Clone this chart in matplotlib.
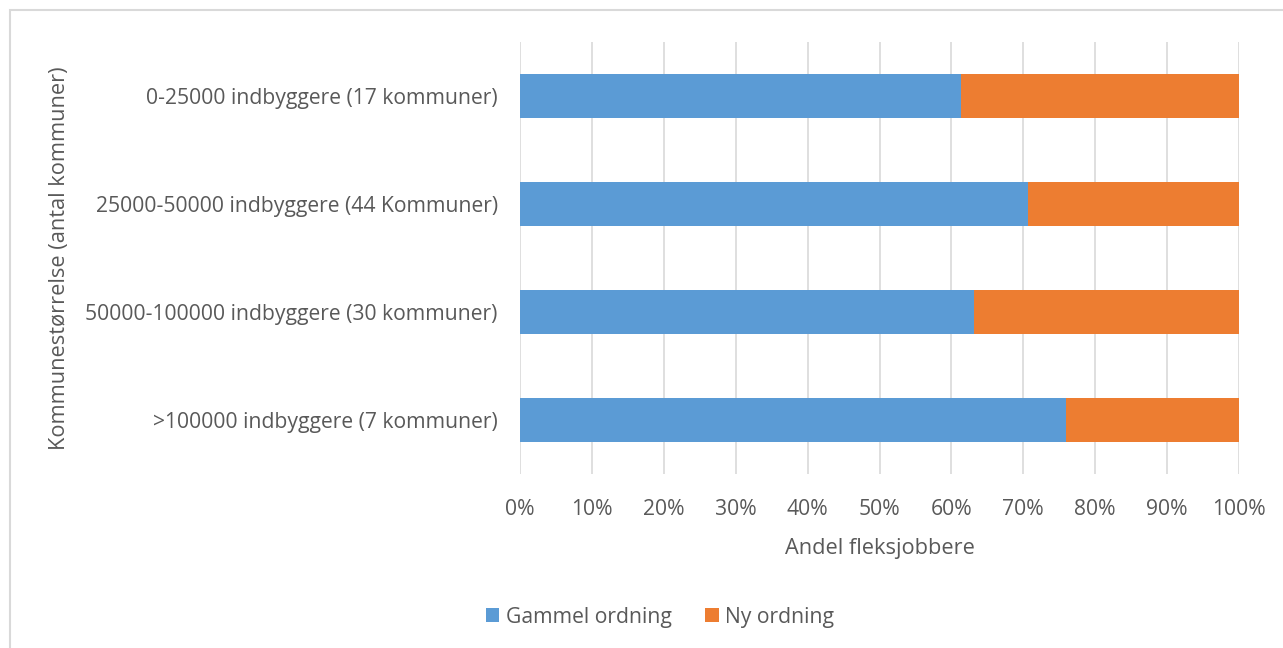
import matplotlib
matplotlib.use("Agg")
import matplotlib.pyplot as plt
from matplotlib.patches import Rectangle
from matplotlib.ticker import PercentFormatter

categories = ["0-25000 indbyggere (17 kommuner)",
              "25000-50000 indbyggere (44 Kommuner)",
              "50000-100000 indbyggere (30 kommuner)",
              ">100000 indbyggere (7 kommuner)"]
gammel = [61.3, 70.7, 63.2, 76.0]
ny = [100 - g for g in gammel]

plt.rcParams['font.family'] = ['Open Sans', 'DejaVu Sans']
txt = '#595959'
fs = 15.2

fig = plt.figure(figsize=(12.83, 6.48), dpi=100)
W, H = 1283, 648
fig.patches.append(Rectangle((10 / W, -5 / H), 1280 / W, 643 / H, transform=fig.transFigure,
                             fill=False, edgecolor='#D9D9D9', linewidth=1.5))
ax = fig.add_axes([520 / W, 1 - 474 / H, 719 / W, 432 / H])

y = list(range(len(categories)))
ax.barh(y, gammel, height=0.4, color='#5B9BD5', label='Gammel ordning', zorder=3)
ax.barh(y, ny, left=gammel, height=0.4, color='#ED7D31', label='Ny ordning', zorder=3)
ax.set_ylim(3.5, -0.5)
ax.set_xlim(0, 100)
ax.set_xticks(range(0, 101, 10))
ax.xaxis.set_major_formatter(PercentFormatter(decimals=0))
ax.set_yticks(y)
ax.set_yticklabels(categories)
ax.grid(axis='x', color='#D9D9D9', linewidth=1.2, zorder=0)
for s in ax.spines.values():
    s.set_visible(False)
ax.tick_params(axis='both', length=0, labelsize=fs, labelcolor=txt)
ax.tick_params(axis='x', pad=18)
ax.tick_params(axis='y', pad=16)
ax.set_xlabel('Andel fleksjobbere', fontsize=fs + 0.5, color=txt, labelpad=13)
ax.yaxis.set_label_coords(-(520 - 60) / 719, 0.49)
ax.set_ylabel('Kommunestørrelse (antal kommuner)', fontsize=fs + 0.5, color=txt, va='center')
fig.legend(loc='center', bbox_to_anchor=(660 / W, 1 - 617 / H), ncol=2, frameon=False,
           fontsize=fs, labelcolor=txt, handlelength=0.65, handleheight=0.65,
           columnspacing=1.6, handletextpad=0.3)
fig.savefig('out.png', dpi=100)
